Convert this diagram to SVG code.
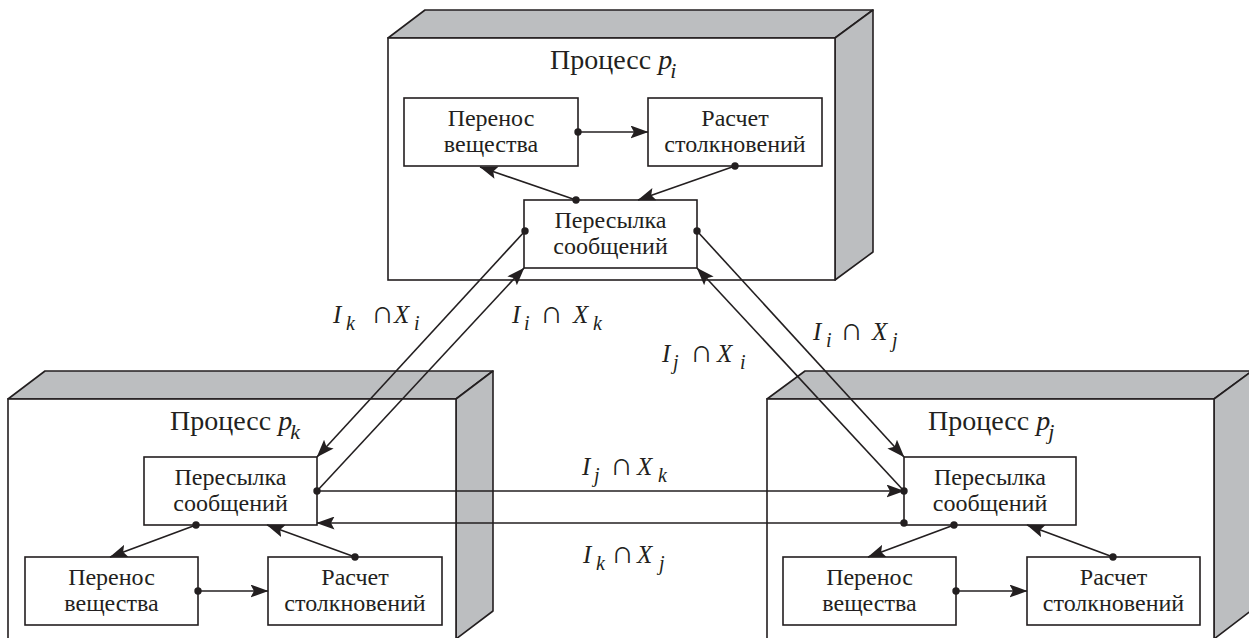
<svg xmlns="http://www.w3.org/2000/svg" width="1249" height="638" viewBox="0 0 1249 638">
<style>
.face{fill:#fff;stroke:#231f20;stroke-width:1.6}
.shade{fill:#bcbec0;stroke:#231f20;stroke-width:1.6;stroke-linejoin:round}
.blk{fill:#fff;stroke:#231f20;stroke-width:1.6}
.t{font-family:"Liberation Serif","Times New Roman",serif;font-size:24px;fill:#231f20;text-anchor:middle}
.title{font-family:"Liberation Serif","Times New Roman",serif;font-size:28px;fill:#231f20}
.m{font-family:"Liberation Serif","Times New Roman",serif;font-size:25px;fill:#231f20;font-style:italic}
.s{font-size:20px}
.cap{font-style:normal;font-size:32px}
.ln{stroke:#231f20;stroke-width:1.6;fill:none}
.arr{marker-end:url(#ah)}
.dot{fill:#231f20}
</style>
<defs>
<marker id="ah" markerUnits="userSpaceOnUse" viewBox="0 0 18 13" markerWidth="18" markerHeight="13" refX="17.5" refY="6.5" orient="auto">
<path d="M0,0 L18,6.5 L0,13 L3.5,6.5 Z" fill="#231f20"/>
</marker>
</defs>

<g id="process-i">
<polygon class="shade" points="388,38 425,10 873,10 835,38"/>
<polygon class="shade" points="835,38 873,10 873,252 835,280"/>
<rect class="face" x="388" y="38" width="447" height="242"/>
<text class="title" x="550" y="69">Процесс <tspan font-style="italic">p</tspan><tspan font-style="italic" font-size="22" dx="-2" dy="9">i</tspan></text>
<g id="i-transfer"><rect class="blk" x="404" y="98" width="174" height="68"/><text class="t" x="491" y="126">Перенос</text><text class="t" x="491" y="152">вещества</text></g>
<g id="i-collide"><rect class="blk" x="648" y="98" width="174" height="68"/><text class="t" x="735" y="126">Расчет</text><text class="t" x="735" y="152">столкновений</text></g>
<g id="i-msg"><rect class="blk" x="524" y="200" width="173" height="68"/><text class="t" x="610.5" y="228">Пересылка</text><text class="t" x="610.5" y="254">сообщений</text></g>
</g>

<g id="process-k">
<polygon class="shade" points="8,399 45,371 493,371 456,399"/>
<polygon class="shade" points="456,399 493,371 493,611 456,639"/>
<rect class="face" x="8" y="399" width="448" height="250"/>
<text class="title" x="170" y="430">Процесс <tspan font-style="italic">p</tspan><tspan font-style="italic" font-size="22" dx="-2" dy="9">k</tspan></text>
<g id="k-msg"><rect class="blk" x="144" y="457" width="173" height="68"/><text class="t" x="230.5" y="485">Пересылка</text><text class="t" x="230.5" y="511">сообщений</text></g>
<g id="k-transfer"><rect class="blk" x="25" y="557" width="173" height="68"/><text class="t" x="111.5" y="585">Перенос</text><text class="t" x="111.5" y="611">вещества</text></g>
<g id="k-collide"><rect class="blk" x="268" y="557" width="174" height="68"/><text class="t" x="355" y="585">Расчет</text><text class="t" x="355" y="611">столкновений</text></g>
</g>

<g id="process-j">
<polygon class="shade" points="767,399 805,371 1252,371 1214,399"/>
<polygon class="shade" points="1214,399 1252,371 1252,610 1214,639"/>
<rect class="face" x="767" y="399" width="447" height="250"/>
<text class="title" x="928" y="430">Процесс <tspan font-style="italic">p</tspan><tspan font-style="italic" font-size="22" dx="-2" dy="9">j</tspan></text>
<g id="j-msg"><rect class="blk" x="904" y="457" width="172" height="68"/><text class="t" x="990" y="485">Пересылка</text><text class="t" x="990" y="511">сообщений</text></g>
<g id="j-transfer"><rect class="blk" x="783" y="557" width="173" height="68"/><text class="t" x="869.5" y="585">Перенос</text><text class="t" x="869.5" y="611">вещества</text></g>
<g id="j-collide"><rect class="blk" x="1027" y="557" width="173" height="68"/><text class="t" x="1113.5" y="585">Расчет</text><text class="t" x="1113.5" y="611">столкновений</text></g>
</g>

<g id="connectors">
<line class="ln arr" x1="578" y1="132" x2="648" y2="132"/>
<line class="ln arr" x1="576" y1="200" x2="480" y2="167"/>
<line class="ln arr" x1="735" y1="166" x2="638" y2="200"/>
<line class="ln arr" x1="198" y1="591" x2="268" y2="591"/>
<line class="ln arr" x1="196" y1="525" x2="110" y2="557"/>
<line class="ln arr" x1="355" y1="557" x2="267" y2="525"/>
<line class="ln arr" x1="956" y1="591" x2="1027" y2="591"/>
<line class="ln arr" x1="954" y1="525" x2="868" y2="557"/>
<line class="ln arr" x1="1113" y1="557" x2="1027" y2="525"/>
<line class="ln arr" x1="525" y1="231" x2="317" y2="457"/>
<line class="ln arr" x1="317" y1="491" x2="524" y2="268"/>
<line class="ln arr" x1="697" y1="231" x2="904" y2="457"/>
<line class="ln arr" x1="904" y1="491" x2="697" y2="268"/>
<line class="ln arr" x1="317" y1="491" x2="904" y2="491"/>
<line class="ln arr" x1="904" y1="523" x2="317" y2="523"/>
<circle class="dot" cx="578" cy="132" r="3.7"/>
<circle class="dot" cx="576" cy="200" r="3.7"/>
<circle class="dot" cx="735" cy="166" r="3.7"/>
<circle class="dot" cx="525" cy="231" r="3.7"/>
<circle class="dot" cx="697" cy="231" r="3.7"/>
<circle class="dot" cx="198" cy="591" r="3.7"/>
<circle class="dot" cx="196" cy="525" r="3.7"/>
<circle class="dot" cx="355" cy="557" r="3.7"/>
<circle class="dot" cx="317" cy="491" r="3.7"/>
<circle class="dot" cx="956" cy="591" r="3.7"/>
<circle class="dot" cx="954" cy="525" r="3.7"/>
<circle class="dot" cx="1113" cy="557" r="3.7"/>
<circle class="dot" cx="904" cy="491" r="3.7"/>
<circle class="dot" cx="904" cy="523" r="3.7"/>
</g>

<g id="labels">
<text class="m" y="323"><tspan x="333">I</tspan><tspan class="s" x="346" dy="7">k</tspan><tspan class="cap" x="371" dy="-7">∩</tspan><tspan x="394">X</tspan><tspan class="s" x="414" dy="7">i</tspan></text>
<text class="m" y="323"><tspan x="512">I</tspan><tspan class="s" x="524" dy="7">i</tspan><tspan class="cap" x="540" dy="-7">∩</tspan><tspan x="573">X</tspan><tspan class="s" x="593" dy="7">k</tspan></text>
<text class="m" y="362"><tspan x="662">I</tspan><tspan class="s" x="673" dy="7">j</tspan><tspan class="cap" x="690" dy="-7">∩</tspan><tspan x="717">X</tspan><tspan class="s" x="740" dy="7">i</tspan></text>
<text class="m" y="340"><tspan x="813">I</tspan><tspan class="s" x="826" dy="7">i</tspan><tspan class="cap" x="840" dy="-7">∩</tspan><tspan x="872">X</tspan><tspan class="s" x="892" dy="7">j</tspan></text>
<text class="m" y="475"><tspan x="582">I</tspan><tspan class="s" x="594" dy="7">j</tspan><tspan class="cap" x="610" dy="-7">∩</tspan><tspan x="637">X</tspan><tspan class="s" x="658" dy="7">k</tspan></text>
<text class="m" y="563"><tspan x="583">I</tspan><tspan class="s" x="596" dy="7">k</tspan><tspan class="cap" x="611" dy="-7">∩</tspan><tspan x="637">X</tspan><tspan class="s" x="659" dy="7">j</tspan></text>
</g>
</svg>
